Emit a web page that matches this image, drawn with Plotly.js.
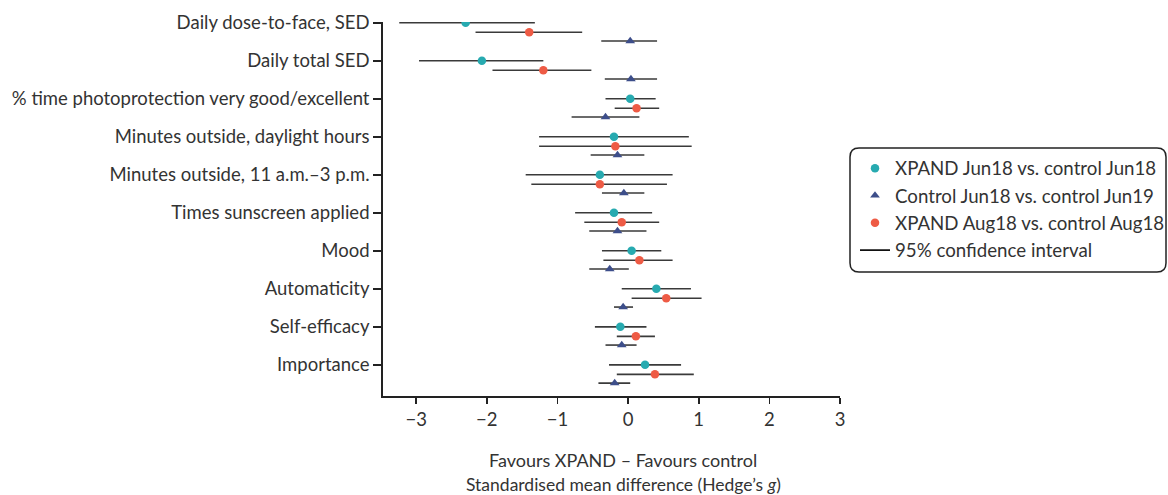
<!DOCTYPE html>
<html>
<head>
<meta charset="utf-8">
<script src="https://cdn.plot.ly/plotly-3.0.1.min.js"></script>
<style>html,body{margin:0;padding:0;background:#fff;}#chart{width:1168px;height:495px;}</style>
</head>
<body>
<div id="chart"></div>
<script>
const categories = [
  "Daily dose-to-face, SED",
  "Daily total SED",
  "% time photoprotection very good/excellent",
  "Minutes outside, daylight hours",
  "Minutes outside, 11 a.m.–3 p.m.",
  "Times sunscreen applied",
  "Mood",
  "Automaticity",
  "Self-efficacy",
  "Importance"
];

// XPAND Jun18 vs. control Jun18
const xpandJunEst = [-2.30, -2.07, 0.03, -0.20, -0.40, -0.20, 0.05, 0.40, -0.11, 0.24];
const xpandJunLo  = [-3.24, -2.96, -0.32, -1.26, -1.45, -0.75, -0.37, -0.09, -0.47, -0.27];
const xpandJunHi  = [-1.32, -1.20, 0.39, 0.86, 0.63, 0.34, 0.47, 0.89, 0.26, 0.75];

// XPAND Aug18 vs. control Aug18
const xpandAugEst = [-1.40, -1.20, 0.12, -0.18, -0.40, -0.09, 0.16, 0.54, 0.11, 0.38];
const xpandAugLo  = [-2.16, -1.92, -0.19, -1.26, -1.37, -0.62, -0.35, 0.05, -0.16, -0.16];
const xpandAugHi  = [-0.65, -0.52, 0.44, 0.90, 0.55, 0.44, 0.63, 1.04, 0.38, 0.93];

// Control Jun18 vs. control Jun19
const controlEst = [0.03, 0.04, -0.32, -0.15, -0.06, -0.15, -0.26, -0.07, -0.09, -0.19];
const controlLo  = [-0.38, -0.33, -0.80, -0.53, -0.37, -0.55, -0.55, -0.20, -0.32, -0.42];
const controlHi  = [0.41, 0.41, 0.16, 0.23, 0.23, 0.26, 0.01, 0.07, 0.12, 0.03];

const xTicks = [-3, -2, -1, 0, 1, 2, 3];

const FONT = "Lato, 'Open Sans', sans-serif";
const TXT = "#333333";
const CI_COLOR = "#3a3a3a";
const idx = categories.map((c, i) => i);

function series(name, est, lo, hi, offset, color, symbol, size) {
  return {
    type: "scatter", mode: "markers", name: name,
    x: est, y: idx.map(i => i + offset),
    marker: {color: color, symbol: symbol, size: size, line: {width: 0}},
    error_x: {type: "data", symmetric: false,
      array: est.map((v, i) => hi[i] - v),
      arrayminus: est.map((v, i) => v - lo[i]),
      color: CI_COLOR, thickness: 1.6, width: 0},
    hoverinfo: "x+name"
  };
}

const traces = [
  series("XPAND Jun18 vs. control Jun18", xpandJunEst, xpandJunLo, xpandJunHi, 0, "#27aab0", "circle", 8.5),
  series("Control Jun18 vs. control Jun19", controlEst, controlLo, controlHi, 0.48, "#3d4e8a", "triangle-up", 8.5),
  series("XPAND Aug18 vs. control Aug18", xpandAugEst, xpandAugLo, xpandAugHi, 0.25, "#ee5b45", "circle", 8.5),
  {type: "scatter", mode: "lines", name: "95% confidence interval", x: [null], y: [null],
   line: {color: "#111111", width: 1.8}}
];

// plot area in pixels
const L = 383, R = 840, T = 22, B = 396, W = 1168, H = 495;
const px = v => (v - L) / (R - L);
const py = v => (B - v) / (B - T);
function roundRect(x0, y0, x1, y1, r) {
  return `M ${px(x0 + r)} ${py(y0)} L ${px(x1 - r)} ${py(y0)} Q ${px(x1)} ${py(y0)} ${px(x1)} ${py(y0 + r)} ` +
    `L ${px(x1)} ${py(y1 - r)} Q ${px(x1)} ${py(y1)} ${px(x1 - r)} ${py(y1)} ` +
    `L ${px(x0 + r)} ${py(y1)} Q ${px(x0)} ${py(y1)} ${px(x0)} ${py(y1 - r)} ` +
    `L ${px(x0)} ${py(y0 + r)} Q ${px(x0)} ${py(y0)} ${px(x0 + r)} ${py(y0)} Z`;
}

const layout = {
  width: W, height: H,
  margin: {l: L, r: W - R, t: T, b: H - B, pad: 0, autoexpand: false},
  paper_bgcolor: "#ffffff", plot_bgcolor: "#ffffff",
  font: {family: FONT, size: 18.5, color: TXT},
  showlegend: true,
  xaxis: {
    range: [-3.47, 3.0], tickvals: xTicks, ticktext: xTicks.map(v => v < 0 ? "\u2212" + Math.abs(v) : String(v)),
    showgrid: false, zeroline: false, showline: true, linecolor: "#222222", linewidth: 1.8,
    ticks: "outside", ticklen: 6, tickwidth: 1.6, tickcolor: "#222222",
    tickfont: {family: FONT, size: 18.5, color: TXT}
  },
  yaxis: {
    range: [9.82, -0.02], tickvals: idx, ticktext: categories,
    showgrid: false, zeroline: false, showline: true, linecolor: "#222222", linewidth: 1.8,
    ticks: "outside", ticklen: 8, tickwidth: 1.6, tickcolor: "#222222",
    tickfont: {family: FONT, size: 18.5, color: TXT}
  },
  legend: {
    x: px(855), y: py(149.5), xanchor: "left", yanchor: "top",
    bgcolor: "rgba(0,0,0,0)", borderwidth: 0,
    font: {family: FONT, size: 18.7, color: TXT},
    tracegroupgap: 0, itemsizing: "trace"
  },
  shapes: [
    {type: "path", xref: "paper", yref: "paper", path: roundRect(850, 148, 1166, 272, 9),
     line: {color: "#222222", width: 1.5}, fillcolor: "rgba(0,0,0,0)"}
  ],
  annotations: [
    {xref: "paper", yref: "paper", x: px(623), y: py(460), xanchor: "center", yanchor: "middle",
     text: "Favours XPAND \u2013 Favours control", showarrow: false, font: {family: FONT, size: 18, color: TXT}},
    {xref: "paper", yref: "paper", x: px(623), y: py(484.5), xanchor: "center", yanchor: "middle",
     text: "Standardised mean difference (Hedge\u2019s <i>g</i>)", showarrow: false, font: {family: FONT, size: 17.5, color: TXT}}
  ]
};

Plotly.newPlot("chart", traces, layout, {displayModeBar: false, staticPlot: true});
</script>
</body>
</html>
